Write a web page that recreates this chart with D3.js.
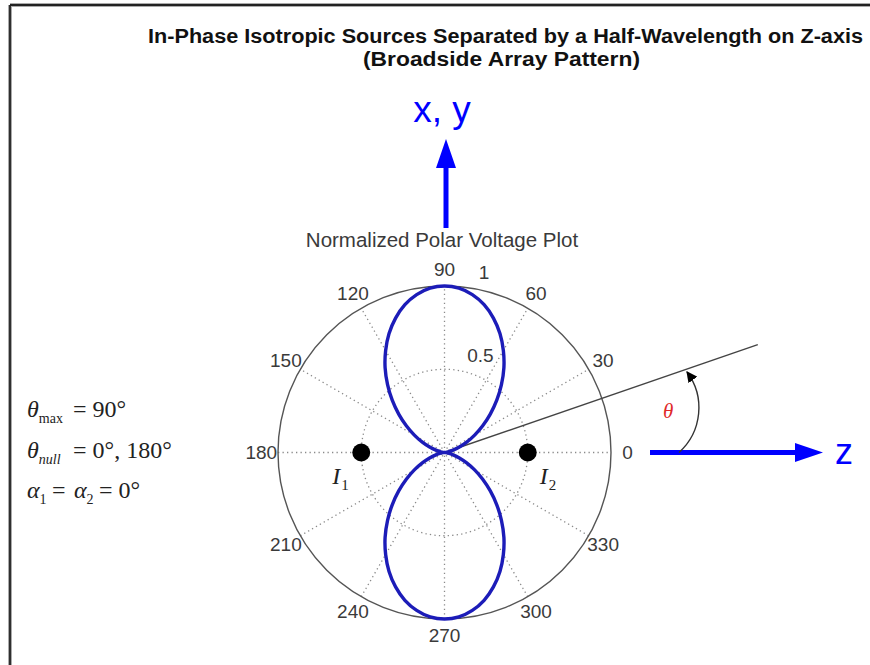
<!DOCTYPE html>
<html>
<head>
<meta charset="utf-8">
<script src="https://cdn.jsdelivr.net/npm/d3@7"></script>
<style>
  html, body { margin: 0; padding: 0; background: #fff; }
  svg { display: block; }
</style>
</head>
<body>
<svg id="chart" width="870" height="665"></svg>
<script>
// Array factor magnitude |cos(pi/2 * cos(theta))|, sampled every 5 degrees from 0 to 355
const patternStepDeg = 5;
const patternValues = [
  0.000, 0.006, 0.024, 0.054, 0.095, 0.147, 0.209, 0.280, 0.359, 0.444, 0.532, 0.622,
  0.707, 0.788, 0.859, 0.919, 0.963, 0.991, 1.000, 0.991, 0.963, 0.919, 0.859, 0.788,
  0.707, 0.622, 0.532, 0.444, 0.359, 0.280, 0.209, 0.147, 0.095, 0.054, 0.024, 0.006,
  0.000, 0.006, 0.024, 0.054, 0.095, 0.147, 0.209, 0.280, 0.359, 0.444, 0.532, 0.622,
  0.707, 0.788, 0.859, 0.919, 0.963, 0.991, 1.000, 0.991, 0.963, 0.919, 0.859, 0.788,
  0.707, 0.622, 0.532, 0.444, 0.359, 0.280, 0.209, 0.147, 0.095, 0.054, 0.024, 0.006
];
const angleTicks = [0, 30, 60, 90, 120, 150, 180, 210, 240, 270, 300, 330];
const radialTicks = [0.5, 1];
// Two isotropic sources on the z-axis, half a wavelength apart
const sources = [
  { label: "1", angle: 180, r: 0.5 },
  { label: "2", angle: 0, r: 0.5 }
];
const thetaExampleDeg = 19;

const titleLines = [
  "In-Phase Isotropic Sources Separated by a Half-Wavelength on Z-axis",
  "(Broadside Array Pattern)"
];
const plotTitle = "Normalized Polar Voltage Plot";

const svg = d3.select("#chart");
const cx = 444.5, cy = 452.5, R = 166.5;
const r = d3.scaleLinear().domain([0, 1]).range([0, R]);
const rad = d => d * Math.PI / 180;
const px = (deg, v) => cx + r(v) * Math.cos(rad(deg));
const py = (deg, v) => cy - r(v) * Math.sin(rad(deg));

const sans = "'Liberation Sans', Arial, Helvetica, sans-serif";
const serif = "'Liberation Serif', 'Times New Roman', Times, serif";

// Frame
svg.append("line").attr("x1", 10).attr("y1", 5).attr("x2", 870).attr("y2", 5)
  .attr("stroke", "#aaa").attr("stroke-width", 4);
svg.append("line").attr("x1", 10).attr("y1", 5).attr("x2", 10).attr("y2", 665)
  .attr("stroke", "#aaa").attr("stroke-width", 4);
svg.append("line").attr("x1", 10).attr("y1", 5).attr("x2", 870).attr("y2", 5)
  .attr("stroke", "#222").attr("stroke-width", 1.8);
svg.append("line").attr("x1", 10).attr("y1", 5).attr("x2", 10).attr("y2", 665)
  .attr("stroke", "#222").attr("stroke-width", 1.8);

// Titles
const titleSpecs = [
  { x: 505.5, y: 43, len: 715 },
  { x: 501.5, y: 66, len: 277 }
];
titleLines.forEach((t, i) => {
  svg.append("text")
    .attr("x", titleSpecs[i].x).attr("y", titleSpecs[i].y)
    .attr("text-anchor", "middle")
    .attr("font-family", "'Liberation Sans Narrow', " + sans)
    .attr("font-weight", "bold")
    .attr("font-size", 19.5)
    .attr("fill", "#111")
    .attr("textLength", titleSpecs[i].len)
    .attr("lengthAdjust", "spacingAndGlyphs")
    .text(t);
});

// Polar grid
const grid = svg.append("g");
angleTicks.filter(a => a < 180).forEach(a => {
  grid.append("line")
    .attr("x1", px(a + 180, 1)).attr("y1", py(a + 180, 1))
    .attr("x2", px(a, 1)).attr("y2", py(a, 1))
    .attr("stroke", "#8a8a8a").attr("stroke-width", 1.3)
    .attr("stroke-dasharray", "1.3,3.2");
});
radialTicks.forEach(v => {
  grid.append("circle")
    .attr("cx", cx).attr("cy", cy).attr("r", r(v))
    .attr("fill", "none")
    .attr("stroke", v === 1 ? "#555" : "#8a8a8a")
    .attr("stroke-width", v === 1 ? 1.4 : 1.3)
    .attr("stroke-dasharray", v === 1 ? null : "1.3,3.2");
});

// Angle labels
angleTicks.forEach(a => {
  svg.append("text")
    .attr("x", px(a, 1.1)).attr("y", py(a, 1.1))
    .attr("text-anchor", "middle").attr("dominant-baseline", "central")
    .attr("font-family", sans).attr("font-size", 19).attr("fill", "#3a3a3a")
    .text(a);
});
// Radial labels
radialTicks.forEach(v => {
  svg.append("text")
    .attr("x", px(82, v + 0.025) + 10.5).attr("y", py(82, v + 0.025) - 4)
    .attr("font-family", sans).attr("font-size", 19).attr("fill", "#3a3a3a")
    .text(v);
});

// Plot title
svg.append("text")
  .attr("x", 442).attr("y", 247)
  .attr("text-anchor", "middle")
  .attr("font-family", sans).attr("font-size", 20.5).attr("fill", "#3a3a3a")
  .text(plotTitle);

// Theta reference line
svg.append("line")
  .attr("x1", cx).attr("y1", cy)
  .attr("x2", px(thetaExampleDeg, 1.99)).attr("y2", py(thetaExampleDeg, 1.99))
  .attr("stroke", "#444").attr("stroke-width", 1.4);

// Radiation pattern
const patternData = patternValues.map((v, i) => ({ theta: i * patternStepDeg, v }));
const lobe = d3.lineRadial()
  .angle(d => Math.PI / 2 - rad(d.theta))
  .radius(d => r(d.v))
  .curve(d3.curveCatmullRomClosed);
svg.append("path")
  .attr("transform", `translate(${cx},${cy})`)
  .attr("d", lobe(patternData))
  .attr("fill", "none")
  .attr("stroke", "#1c1cb8").attr("stroke-width", 3.4);

// Sources
sources.forEach(s => {
  svg.append("circle")
    .attr("cx", px(s.angle, s.r)).attr("cy", py(s.angle, s.r))
    .attr("r", 9).attr("fill", "#000");
  const lx = s.angle === 180 ? px(s.angle, s.r) - 29 : px(s.angle, s.r) + 12;
  const t = svg.append("text")
    .attr("x", lx).attr("y", cy + 31)
    .attr("font-family", serif).attr("font-size", 24).attr("fill", "#222");
  t.append("tspan").attr("font-style", "italic").text("I");
  t.append("tspan").attr("font-size", 15).attr("dy", 6).attr("dx", 1).text(s.label);
});

// Axis arrows
const defs = svg.append("defs");
defs.append("marker")
  .attr("id", "thetaHead")
  .attr("viewBox", "0 0 10 10").attr("refX", 9).attr("refY", 5)
  .attr("markerWidth", 11).attr("markerHeight", 11)
  .attr("markerUnits", "userSpaceOnUse")
  .attr("orient", "auto")
  .append("path").attr("d", "M0,0 L10,5 L0,10 Z").attr("fill", "#000");

// z axis arrow
svg.append("line").attr("x1", 650).attr("y1", cy).attr("x2", 800).attr("y2", cy)
  .attr("stroke", "#0000ff").attr("stroke-width", 5);
svg.append("path").attr("d", `M795,${cy - 9.5} L823,${cy} L795,${cy + 9.5} Z`).attr("fill", "#0000ff");
svg.append("text").attr("x", 835).attr("y", cy + 11)
  .attr("font-family", sans).attr("font-size", 36).attr("fill", "#0000ff").text("z");

// x, y axis arrow
svg.append("line").attr("x1", 446).attr("y1", 228).attr("x2", 446).attr("y2", 162)
  .attr("stroke", "#0000ff").attr("stroke-width", 5);
svg.append("path").attr("d", "M436,168 L446,139 L456,168 Z").attr("fill", "#0000ff");
svg.append("text").attr("x", 442).attr("y", 122)
  .attr("text-anchor", "middle")
  .attr("font-family", sans).attr("font-size", 37).attr("fill", "#0000ff").text("x, y");

// Theta arc
svg.append("path")
  .attr("d", `M679,${cy} A60,60 0 0 0 687,372`)
  .attr("fill", "none").attr("stroke", "#333").attr("stroke-width", 1.4)
  .attr("marker-end", "url(#thetaHead)");
svg.append("text").attr("x", 663).attr("y", 418)
  .attr("font-family", serif).attr("font-style", "italic")
  .attr("font-size", 21).attr("fill", "#e02828").text("θ");

// Pattern parameters
const eq = svg.append("g").attr("font-family", serif).attr("font-size", 24).attr("fill", "#222");
const row1 = eq.append("text").attr("y", 417);
row1.append("tspan").attr("x", 27).attr("font-style", "italic").text("θ");
row1.append("tspan").attr("font-size", 14).attr("dy", 6).text("max");
row1.append("tspan").attr("x", 73).attr("dy", -6).text("= 90°");

const row2 = eq.append("text").attr("y", 458);
row2.append("tspan").attr("x", 27).attr("font-style", "italic").text("θ");
row2.append("tspan").attr("font-size", 14).attr("font-style", "italic").attr("dy", 6).text("null");
row2.append("tspan").attr("x", 73).attr("dy", -6).text("= 0°, 180°");

const row3 = eq.append("text").attr("y", 498);
row3.append("tspan").attr("x", 27).attr("font-style", "italic").text("α");
row3.append("tspan").attr("font-size", 14).attr("dy", 6).text("1");
row3.append("tspan").attr("x", 52).attr("dy", -6).text("=");
row3.append("tspan").attr("x", 74).attr("font-style", "italic").text("α");
row3.append("tspan").attr("font-size", 14).attr("dy", 6).text("2");
row3.append("tspan").attr("x", 99).attr("dy", -6).text("= 0°");
</script>
</body>
</html>
